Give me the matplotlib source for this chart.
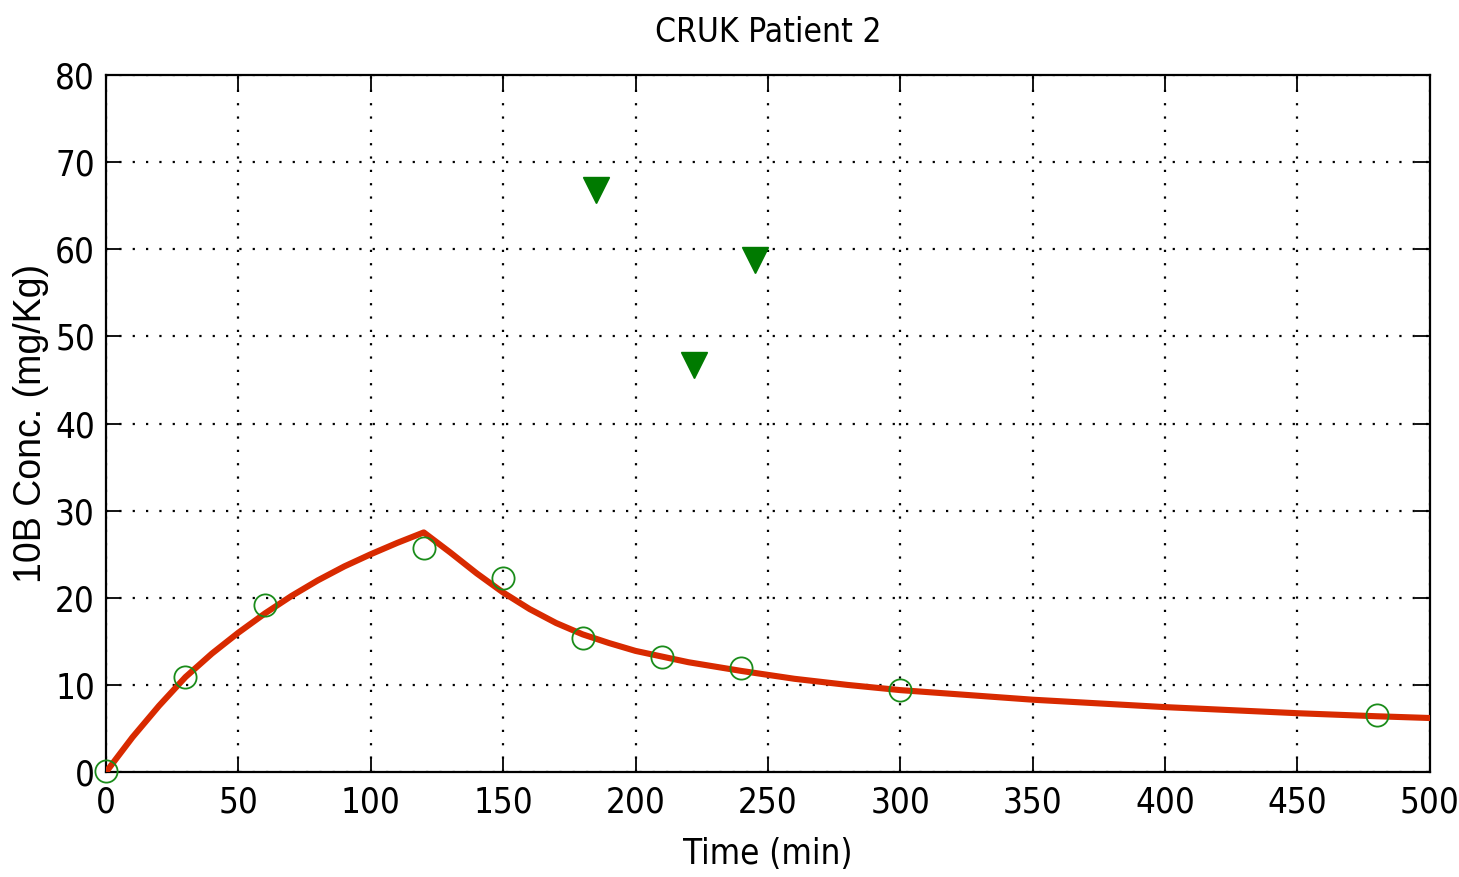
import matplotlib.pyplot as plt
from matplotlib import font_manager

# measured samples (circles)
t_meas = [0, 30, 60, 120, 150, 180, 210, 240, 300, 480]
c_meas = [0.1, 10.9, 19.2, 25.7, 22.3, 15.4, 13.2, 11.9, 9.4, 6.5]

# other samples (triangles)
t_tri = [185, 222, 245]
c_tri = [66.8, 46.7, 58.8]

# model curve
t_fit = [0, 10, 20, 30, 40, 50, 60, 70, 80, 90, 100, 110, 120,
         130, 140, 150, 160, 170, 180, 190, 200, 220, 240, 260, 280,
         300, 350, 400, 450, 480, 500]
c_fit = [0, 4.0, 7.6, 10.9, 13.6, 16.0, 18.2, 20.2, 22.0, 23.6, 25.0, 26.3, 27.5,
         25.2, 22.8, 20.6, 18.7, 17.1, 15.8, 14.8, 13.9, 12.6, 11.6, 10.7, 10.0,
         9.4, 8.3, 7.45, 6.75, 6.4, 6.2]

narrow = font_manager.FontProperties(family='DejaVu Sans', stretch='condensed', size=25)
title_font = font_manager.FontProperties(family='DejaVu Sans', stretch='condensed', size=24)

fig = plt.figure(figsize=(14.59, 8.77), dpi=100)
ax = fig.add_axes([0.0727, 0.1197, 0.9073, 0.7948])

ax.plot(t_fit, c_fit, color='#d82a00', lw=4.4, zorder=3)
ax.plot(t_meas, c_meas, 'o', ms=16, mfc='none', mec='#1a8c1a', mew=1.3, zorder=4, clip_on=False)
ax.plot(t_tri, c_tri, 'v', ms=19, color='#007a00', zorder=4)

ax.set_xlim(0, 500)
ax.set_ylim(0, 80)
ax.set_xticks(range(0, 501, 50))
ax.set_yticks(range(0, 81, 10))
ax.grid(True, color='black', ls=(0, (1, 5)), lw=1.6)
ax.tick_params(direction='in', length=11, width=1.3, top=True, right=True, pad=10)
ax.tick_params(axis='y', pad=8)
for lab in ax.get_xticklabels() + ax.get_yticklabels():
    lab.set_fontproperties(narrow)
for s in ax.spines.values():
    s.set_linewidth(1.6)

ax.set_title('CRUK Patient 2', fontproperties=title_font, pad=24)
ax.set_xlabel('Time (min)', fontproperties=narrow, labelpad=12)
ax.set_ylabel('10B Conc. (mg/Kg)', family=['Liberation Sans', 'DejaVu Sans'], fontsize=27, labelpad=4)

fig.savefig('out.png')
